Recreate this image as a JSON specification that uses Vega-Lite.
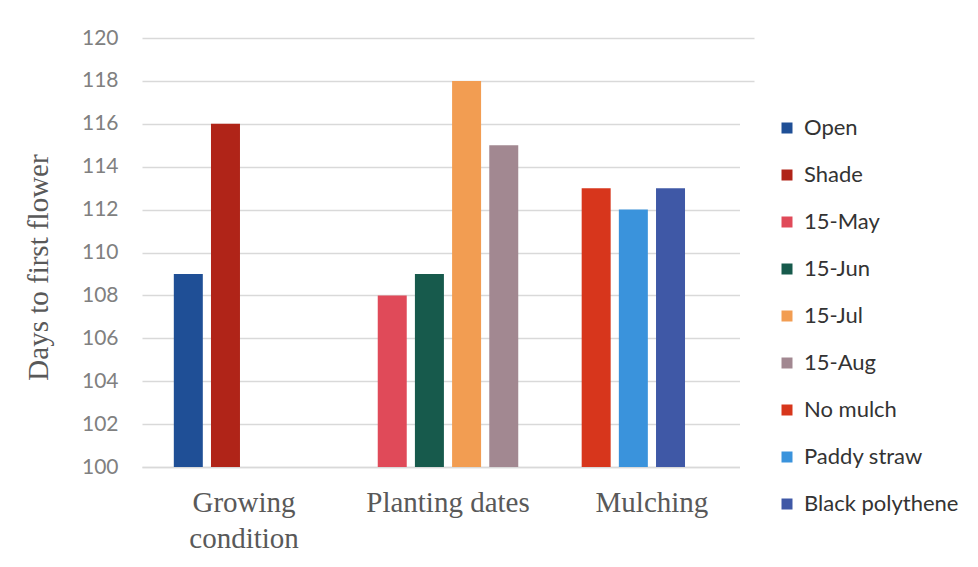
{
  "$schema": "https://vega.github.io/schema/vega-lite/v6.json",
  "width": 816,
  "height": 429,
  "autosize": {"type": "none"},
  "padding": {"left": 142, "top": 38, "right": 20, "bottom": 100},
  "background": "#ffffff",
  "data": {
    "values": [
      {"group": "Growing condition", "treatment": "Open", "slot": 0, "days": 109},
      {"group": "Growing condition", "treatment": "Shade", "slot": 1, "days": 116},
      {"group": "Planting dates", "treatment": "15-May", "slot": 0, "days": 108},
      {"group": "Planting dates", "treatment": "15-Jun", "slot": 1, "days": 109},
      {"group": "Planting dates", "treatment": "15-Jul", "slot": 2, "days": 118},
      {"group": "Planting dates", "treatment": "15-Aug", "slot": 3, "days": 115},
      {"group": "Mulching", "treatment": "No mulch", "slot": 0, "days": 113},
      {"group": "Mulching", "treatment": "Paddy straw", "slot": 1, "days": 112},
      {"group": "Mulching", "treatment": "Black polythene", "slot": 2, "days": 113}
    ]
  },
  "mark": {"type": "bar"},
  "encoding": {
    "x": {
      "field": "group",
      "type": "nominal",
      "sort": ["Growing condition", "Planting dates", "Mulching"],
      "scale": {"range": [0, 612], "paddingInner": 0.311, "paddingOuter": 0.156},
      "axis": {
        "title": null,
        "labelAngle": 0,
        "labelFont": "Liberation Serif",
        "labelFontSize": 29,
        "labelColor": "#595959",
        "labelPadding": 21,
        "labelLineHeight": 36,
        "labelExpr": "datum.label == 'Growing condition' ? ['Growing', 'condition'] : datum.label",
        "ticks": false,
        "domainColor": "#d9d9d9",
        "domainWidth": 1.5
      }
    },
    "xOffset": {
      "field": "slot",
      "type": "nominal",
      "scale": {"domain": [0, 1, 2, 3], "paddingInner": 0.22, "paddingOuter": 0}
    },
    "y": {
      "field": "days",
      "type": "quantitative",
      "scale": {"domain": [100, 120], "zero": false, "nice": false},
      "axis": {
        "title": "Days to first flower",
        "titleFont": "Liberation Serif",
        "titleFontSize": 29,
        "titleFontWeight": "normal",
        "titleColor": "#595959",
        "titleX": -104,
        "titleY": 229,
        "titleAlign": "center",
        "titleBaseline": "middle",
        "titleAngle": -90,
        "values": [100, 102, 104, 106, 108, 110, 112, 114, 116, 118, 120],
        "labelFont": "Lato",
        "labelFontSize": 21,
        "labelColor": "#808080",
        "labelPadding": 24,
        "ticks": false,
        "domain": false,
        "grid": true,
        "gridColor": "#d9d9d9",
        "gridWidth": 1.5
      }
    },
    "y2": {"datum": 100},
    "color": {
      "field": "treatment",
      "type": "nominal",
      "scale": {
        "domain": ["Open", "Shade", "15-May", "15-Jun", "15-Jul", "15-Aug", "No mulch", "Paddy straw", "Black polythene"],
        "range": ["#1f4f96", "#b02418", "#e04a59", "#175a4c", "#f29d52", "#a28891", "#d7361c", "#3a93dc", "#3f58a6"]
      },
      "legend": {
        "title": null,
        "orient": "none",
        "legendX": 598,
        "legendY": 59,
        "fillColor": "#ffffff",
        "strokeColor": null,
        "padding": 20,
        "symbolOffset": 16,
        "symbolType": "square",
        "symbolSize": 121,
        "symbolStrokeWidth": 0,
        "labelFont": "Lato",
        "labelFontSize": 22,
        "labelColor": "#333333",
        "labelOffset": 6,
        "rowPadding": 25,
        "labelLimit": 300
      }
    }
  },
  "config": {
    "view": {"stroke": null}
  }
}
